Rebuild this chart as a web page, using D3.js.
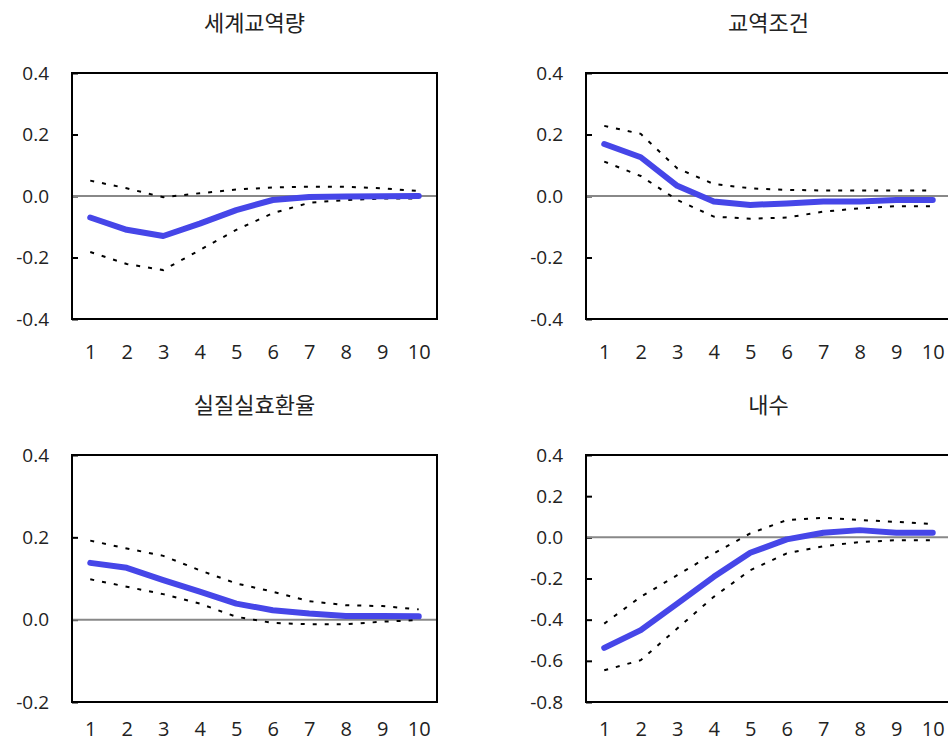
<!DOCTYPE html>
<html>
<head>
<meta charset="utf-8">
<script src="https://cdn.jsdelivr.net/npm/d3@7"></script>
<style>
    body { margin: 0; background: #fff; }
    svg { display: block; font-family: "Open Sans", "Noto Sans CJK KR", sans-serif; }
</style>
</head>
<body>
<div id="chart"></div>
<script>
// horizon (quarters)
const periods = [1, 2, 3, 4, 5, 6, 7, 8, 9, 10];

const titles = ["세계교역량", "교역조건", "실질실효환율", "내수"];

// impulse responses: median and error bands
const tradeMid   = [-0.07, -0.11, -0.13, -0.09, -0.046, -0.013, -0.003, -0.002, -0.001, 0.0];
const tradeUpper = [0.05, 0.025, -0.004, 0.009, 0.021, 0.028, 0.03, 0.03, 0.025, 0.016];
const tradeLower = [-0.182, -0.221, -0.241, -0.176, -0.11, -0.056, -0.022, -0.013, -0.008, -0.008];

const totMid   = [0.169, 0.126, 0.033, -0.018, -0.029, -0.024, -0.018, -0.018, -0.013, -0.013];
const totUpper = [0.228, 0.202, 0.09, 0.039, 0.025, 0.02, 0.018, 0.018, 0.018, 0.018];
const totLower = [0.112, 0.065, -0.013, -0.067, -0.074, -0.07, -0.051, -0.04, -0.033, -0.033];

const reerMid   = [0.138, 0.126, 0.096, 0.068, 0.039, 0.023, 0.015, 0.009, 0.009, 0.008];
const reerUpper = [0.192, 0.173, 0.155, 0.12, 0.088, 0.068, 0.045, 0.035, 0.033, 0.025];
const reerLower = [0.098, 0.08, 0.062, 0.039, 0.007, -0.008, -0.011, -0.011, -0.005, -0.001];

const demandMid   = [-0.537, -0.451, -0.322, -0.192, -0.075, -0.01, 0.022, 0.035, 0.022, 0.022];
const demandUpper = [-0.419, -0.289, -0.184, -0.078, 0.019, 0.084, 0.095, 0.084, 0.075, 0.064];
const demandLower = [-0.646, -0.597, -0.443, -0.289, -0.16, -0.078, -0.043, -0.023, -0.014, -0.014];

const yTicks1 = [-0.4, -0.2, 0.0, 0.2, 0.4];
const yTicks2 = [-0.4, -0.2, 0.0, 0.2, 0.4];
const yTicks3 = [-0.2, 0.0, 0.2, 0.4];
const yTicks4 = [-0.8, -0.6, -0.4, -0.2, 0.0, 0.2, 0.4];

const panels = [
    {title: titles[0], mid: tradeMid, upper: tradeUpper, lower: tradeLower, ticks: yTicks1, left: 72, top: 73, height: 246, xPad: 26},
    {title: titles[1], mid: totMid, upper: totUpper, lower: totLower, ticks: yTicks2, left: 586, top: 73, height: 246, xPad: 26},
    {title: titles[2], mid: reerMid, upper: reerUpper, lower: reerLower, ticks: yTicks3, left: 72, top: 455, height: 247, xPad: 20},
    {title: titles[3], mid: demandMid, upper: demandUpper, lower: demandLower, ticks: yTicks4, left: 586, top: 455, height: 247, xPad: 20}
];

const boxWidth = 365;
const labelFont = "\"Open Sans\", \"Noto Sans CJK KR\", sans-serif";

const svg = d3.select("#chart").append("svg")
    .attr("width", 948)
    .attr("height", 746);

for (const p of panels) {
    const g = svg.append("g").attr("transform", "translate(" + p.left + "," + p.top + ")");

    const x = d3.scalePoint()
        .domain(periods)
        .range([0, boxWidth])
        .padding(0.5);

    const y = d3.scaleLinear()
        .domain(d3.extent(p.ticks))
        .range([p.height, 0]);

    // title
    g.append("text")
        .attr("x", boxWidth / 2)
        .attr("y", -42)
        .attr("text-anchor", "middle")
        .attr("font-size", 22)
        .attr("font-family", "\"Noto Sans CJK KR\", sans-serif")
        .attr("fill", "#222")
        .text(p.title);

    // y axis with inward ticks
    const yAxis = d3.axisLeft(y)
        .tickValues(p.ticks)
        .tickSize(-6)
        .tickPadding(23)
        .tickFormat(d => d.toFixed(1));
    const ya = g.append("g").call(yAxis);
    ya.select(".domain").remove();
    ya.selectAll(".tick line").attr("stroke", "#000").attr("stroke-width", 2);
    ya.selectAll(".tick text")
        .attr("font-size", 19)
        .attr("fill", "#222")
        .attr("font-family", labelFont);

    // x axis labels only
    const xAxis = d3.axisBottom(x).tickSize(0).tickPadding(p.xPad);
    const xa = g.append("g").attr("transform", "translate(0," + p.height + ")").call(xAxis);
    xa.select(".domain").remove();
    xa.selectAll(".tick text")
        .attr("font-size", 20)
        .attr("fill", "#222")
        .attr("font-family", labelFont);

    // zero line
    g.append("line")
        .attr("x1", 0)
        .attr("x2", boxWidth)
        .attr("y1", y(0))
        .attr("y2", y(0))
        .attr("stroke", "#888")
        .attr("stroke-width", 2);

    const line = d3.line()
        .x((d, i) => x(periods[i]))
        .y(d => y(d));

    for (const band of [p.upper, p.lower]) {
        g.append("path")
            .attr("d", line(band))
            .attr("fill", "none")
            .attr("stroke", "#000")
            .attr("stroke-width", 2)
            .attr("stroke-dasharray", "4,8");
    }

    g.append("path")
        .attr("d", line(p.mid))
        .attr("fill", "none")
        .attr("stroke", "#4646E8")
        .attr("stroke-width", 6)
        .attr("stroke-linecap", "round")
        .attr("stroke-linejoin", "round");

    // frame
    g.append("rect")
        .attr("x", 0)
        .attr("y", 0)
        .attr("width", boxWidth)
        .attr("height", p.height)
        .attr("fill", "none")
        .attr("stroke", "#000")
        .attr("stroke-width", 2);
}
</script>
</body>
</html>
